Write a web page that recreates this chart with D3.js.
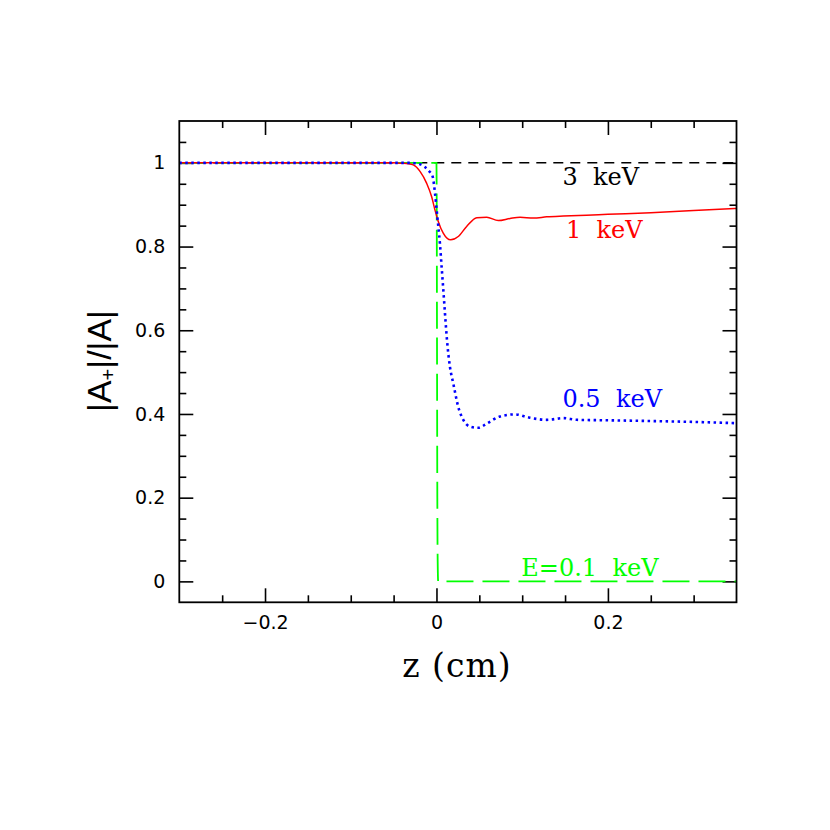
<!DOCTYPE html>
<html>
<head>
<meta charset="utf-8">
<script src="https://cdn.jsdelivr.net/npm/d3@7"></script>
<style>
  html, body { margin: 0; padding: 0; background: #fff; }
  svg { display: block; background: #fff; }
  .tick text { font-family: "DejaVu Sans", sans-serif; font-size: 19px; fill: #000; }
  .tick line { stroke: #000; stroke-width: 1.6; }
  .note { font-family: "DejaVu Serif", serif; font-size: 24px; white-space: pre; }
</style>
</head>
<body>
<svg id="chart" width="830" height="830"></svg>
<script>
// |A+|/|A| against z (cm), one curve per photon energy
const curve3keV = [[-0.3, 1.0], [0.35, 1.0]];

const curve1keV = [
  [-0.3, 1.0], [-0.05, 1.0], [-0.04, 0.999], [-0.033, 0.998], [-0.027, 0.995],
  [-0.019, 0.979], [-0.0114, 0.951], [-0.0056, 0.919], [-0.0017, 0.887],
  [0.0021, 0.86], [0.0079, 0.832], [0.0166, 0.816], [0.0254, 0.824],
  [0.0352, 0.848], [0.047, 0.869], [0.0586, 0.87], [0.0721, 0.862],
  [0.0858, 0.867], [0.0975, 0.87], [0.113, 0.868], [0.1286, 0.871],
  [0.148, 0.873], [0.175, 0.875], [0.2, 0.877], [0.25, 0.881],
  [0.3, 0.886], [0.35, 0.891]
];

const curve05keV = [
  [-0.3, 1.0], [-0.03, 1.0], [-0.02, 0.997], [-0.014, 0.991], [-0.009, 0.981],
  [-0.0044, 0.967], [-0.0017, 0.927], [0.001, 0.871], [0.004, 0.808],
  [0.006, 0.752], [0.008, 0.696], [0.0099, 0.641], [0.0126, 0.569],
  [0.0157, 0.513], [0.0196, 0.473], [0.0254, 0.417], [0.0313, 0.386],
  [0.039, 0.37], [0.0488, 0.367], [0.0586, 0.377], [0.074, 0.394],
  [0.0915, 0.399], [0.109, 0.391], [0.1286, 0.386], [0.148, 0.39],
  [0.1636, 0.386], [0.1946, 0.385], [0.253, 0.383], [0.3, 0.381],
  [0.35, 0.378]
];

const curve01keV = [
  [-0.3, 1.0], [0.0, 1.0], [0.0003, 0.9], [0.0006, 0.6], [0.001, 0.2],
  [0.0014, 0.05], [0.002, 0.0], [0.35, 0.0]
];

const seriesNames = ["3  keV", "1  keV", "0.5  keV", "E=0.1  keV"];

const xMajorTicks = [-0.2, 0, 0.2];
const xMinorTicks = [-0.25, -0.15, -0.1, -0.05, 0.05, 0.1, 0.15, 0.25, 0.3];
const yMajorTicks = [0, 0.2, 0.4, 0.6, 0.8, 1];
const yMinorTicks = [0.05, 0.1, 0.15, 0.25, 0.3, 0.35, 0.45, 0.5, 0.55,
                     0.65, 0.7, 0.75, 0.85, 0.9, 0.95, 1.05];

// plot frame
const LEFT = 179.3, RIGHT = 736.5, TOP = 121, BOTTOM = 602.3;

const svg = d3.select('#chart');

const x = d3.scaleLinear().domain([-0.3, 0.35]).range([LEFT, RIGHT]);
const y = d3.scaleLinear().domain([-0.05, 1.1]).range([BOTTOM, TOP]);

const fmt = d3.format('~g');

svg.append('clipPath').attr('id', 'frame-clip')
  .append('rect')
  .attr('x', LEFT).attr('y', TOP)
  .attr('width', RIGHT - LEFT).attr('height', BOTTOM - TOP);

// ticks on all four sides, pointing inward
function addAxis(axisFn, scale, values, size, labels, transform, padding) {
  const ax = axisFn(scale).tickValues(values).tickSizeInner(-size).tickSizeOuter(0)
    .tickPadding(padding || 0)
    .tickFormat(labels ? fmt : '');
  const g = svg.append('g').attr('transform', transform).call(ax);
  g.select('.domain').remove();
  return g;
}

addAxis(d3.axisBottom, x, xMinorTicks, 7, false, `translate(0,${BOTTOM})`);
addAxis(d3.axisBottom, x, xMajorTicks, 14, true, `translate(0,${BOTTOM})`, 13);
addAxis(d3.axisTop, x, xMinorTicks, 7, false, `translate(0,${TOP})`);
addAxis(d3.axisTop, x, xMajorTicks, 14, false, `translate(0,${TOP})`);
addAxis(d3.axisLeft, y, yMinorTicks, 7, false, `translate(${LEFT},0)`);
addAxis(d3.axisLeft, y, yMajorTicks, 14, true, `translate(${LEFT},0)`, 14);
addAxis(d3.axisRight, y, yMinorTicks, 7, false, `translate(${RIGHT},0)`);
addAxis(d3.axisRight, y, yMajorTicks, 14, false, `translate(${RIGHT},0)`);

// curves
const line = d3.line()
  .x(d => x(d[0]))
  .y(d => y(d[1]))
  .curve(d3.curveMonotoneX);

const curves = [
  {data: curve3keV, color: '#000000', width: 1.5, dash: '10,7'},
  {data: curve01keV, color: '#00ff00', width: 1.8, dash: '27,9'},
  {data: curve1keV, color: '#ff0000', width: 1.5, dash: null},
  {data: curve05keV, color: '#0000ff', width: 2.6, dash: '2.5,3.5'}
];

const plot = svg.append('g').attr('clip-path', 'url(#frame-clip)');
plot.selectAll('path.curve')
  .data(curves)
  .enter()
  .append('path')
  .attr('class', 'curve')
  .attr('d', d => line(d.data))
  .attr('fill', 'none')
  .attr('stroke', d => d.color)
  .attr('stroke-width', d => d.width)
  .attr('stroke-dasharray', d => d.dash);

// frame
svg.append('rect')
  .attr('x', LEFT).attr('y', TOP)
  .attr('width', RIGHT - LEFT).attr('height', BOTTOM - TOP)
  .attr('fill', 'none').attr('stroke', '#000').attr('stroke-width', 1.8);

// curve labels
const noteAt = [[0.147, 0.947], [0.151, 0.82], [0.147, 0.416], [0.099, 0.013]];
const noteColors = ['#000000', '#ff0000', '#0000ff', '#00ff00'];
svg.selectAll('text.note')
  .data(seriesNames)
  .enter()
  .append('text')
  .attr('class', 'note')
  .attr('x', (d, i) => x(noteAt[i][0]))
  .attr('y', (d, i) => y(noteAt[i][1]))
  .attr('fill', (d, i) => noteColors[i])
  .text(d => d);

// axis titles
svg.append('text')
  .attr('x', (LEFT + RIGHT) / 2 - 1)
  .attr('y', 677)
  .attr('text-anchor', 'middle')
  .style('font-family', '"DejaVu Serif", serif')
  .style('font-size', '33px')
  .style('letter-spacing', '1px')
  .style('white-space', 'pre')
  .text('z (cm)');

const yTitle = svg.append('text')
  .attr('transform', 'translate(111,361) rotate(-90)')
  .attr('text-anchor', 'middle')
  .style('font-family', '"Liberation Sans", sans-serif')
  .style('font-size', '34px');
yTitle.append('tspan').text('|A');
yTitle.append('tspan').attr('dy', 4).style('font-size', '20px').text('+');
yTitle.append('tspan').attr('dy', -4).text('|/|A|');
</script>
</body>
</html>
